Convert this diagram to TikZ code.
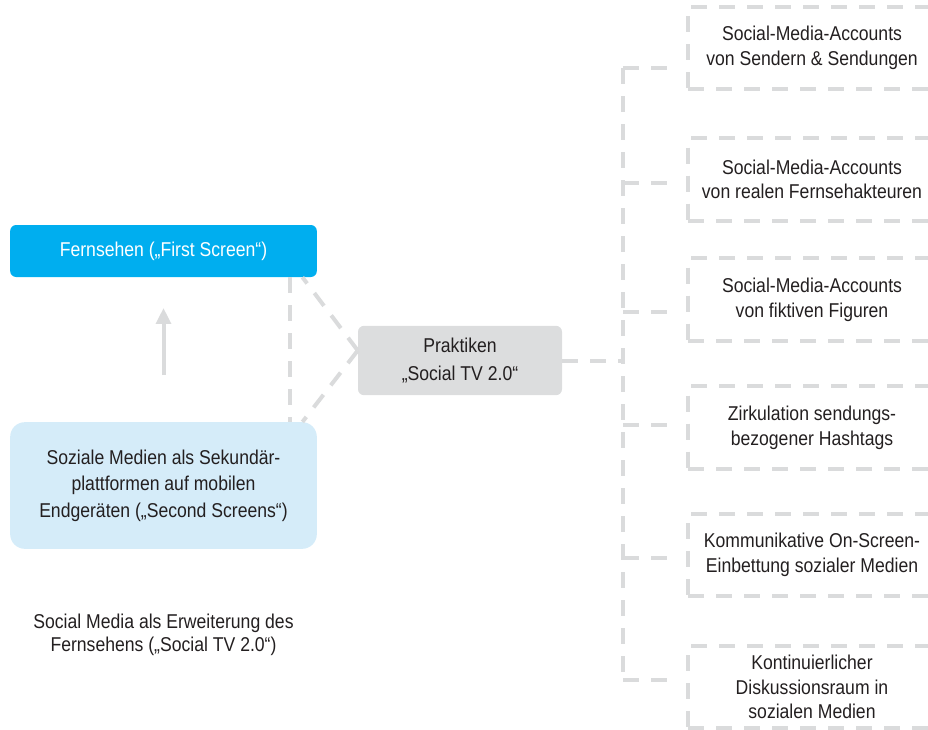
\documentclass[tikz,border=0pt]{standalone}
\usepackage{fontspec}
\setmainfont{Liberation Sans}[FakeStretch=0.88]
\usetikzlibrary{arrows.meta, calc}
\definecolor{ScreenBlue}{HTML}{00AEEF}
\definecolor{PaleBlue}{HTML}{D5ECF9}
\definecolor{BoxGray}{HTML}{DCDDDE}
\definecolor{LineGray}{HTML}{DADBDC}
\definecolor{InkGray}{HTML}{231F20}
\tikzset{
  screenbox/.style={fill=ScreenBlue, rounded corners=4.5pt, text=white, align=center, minimum width=230pt, minimum height=39pt, font=\fontsize{15}{19}\selectfont},
  secondbox/.style={fill=PaleBlue, rounded corners=11pt, text=InkGray, align=center, minimum width=230pt, minimum height=95pt, font=\fontsize{15}{20}\selectfont},
  praxisbox/.style={fill=BoxGray, rounded corners=4.5pt, text=InkGray, align=center, minimum width=153pt, minimum height=52pt, font=\fontsize{15}{20.5}\selectfont},
  itembox/.style={draw=LineGray, line width=3pt, dash pattern=on 12pt off 9pt, text=InkGray, align=center, minimum width=186pt, minimum height=62pt, font=\fontsize{15}{18.5}\selectfont},
  dashline/.style={draw=LineGray, line width=3pt, dash pattern=on 12pt off 9pt},
  uparrow/.style={-{Triangle[length=12pt, width=11pt]}, line width=3pt, draw=LineGray},
  captiontext/.style={text=InkGray, align=center, font=\fontsize{15}{17.5}\selectfont}
}

\begin{document}
\begin{tikzpicture}[x=0.75pt, y=-0.75pt]
\useasboundingbox (0,0) rectangle (928,729);
\clip (0,0) rectangle (928,729);

% left side: screens
\node[screenbox] (tv) at (163.5,251) {Fernsehen („First Screen“)};
\node[secondbox] (second) at (163.5,485.5) {Soziale Medien als Sekundär-\\plattformen auf mobilen\\Endgeräten („Second Screens“)};
\node[captiontext] (caption) at (163.5,634.5) {Social Media als Erweiterung des\\Fernsehens („Social TV 2.0“)};
\draw[uparrow, shorten <=35pt, shorten >=23pt] (second.north) -- (tv.south);

% practices
\node[praxisbox] (praxis) at (460,360.5) {Praktiken\\„Social TV 2.0“};
\draw[dashline] ([xshift=-20pt]tv.south east) -- ([xshift=-20pt]second.north east);
\draw[dashline] ([yshift=7.5pt]praxis.west) -- ([xshift=-11pt]tv.south east);
\draw[dashline] ([yshift=7.5pt]praxis.west) -- ([xshift=-11pt]second.north east);

% right side: single practices
\node[itembox] (s1) at (812,48) {Social-Media-Accounts\\von Sendern \& Sendungen};
\node[itembox] (s2) at (812,179.5) {Social-Media-Accounts\\von realen Fernsehakteuren};
\node[itembox] (s3) at (812,299.5) {Social-Media-Accounts\\von fiktiven Figuren};
\node[itembox] (s4) at (812,427.5) {Zirkulation sendungs-\\bezogener Hashtags};
\node[itembox] (s5) at (812,555) {Kommunikative On-Screen-\\Einbettung sozialer Medien};
\node[itembox] (s6) at (812,687) {Kontinuierlicher\\Diskussionsraum in\\sozialen Medien};

\coordinate (b1) at (623,68);
\coordinate (b2) at (623,183);
\coordinate (b3) at (623,312);
\coordinate (b4) at (623,425);
\coordinate (b5) at (623,558);
\coordinate (b6) at (623,680);
\draw[dashline] (b1) -- (b6);
\draw[dashline] (praxis.east) -- (praxis.east -| b1);
\foreach \n in {1,...,6}
  \draw[dashline, shorten >=13pt] (b\n) -- (b\n -| s\n.west);
\end{tikzpicture}
\end{document}
